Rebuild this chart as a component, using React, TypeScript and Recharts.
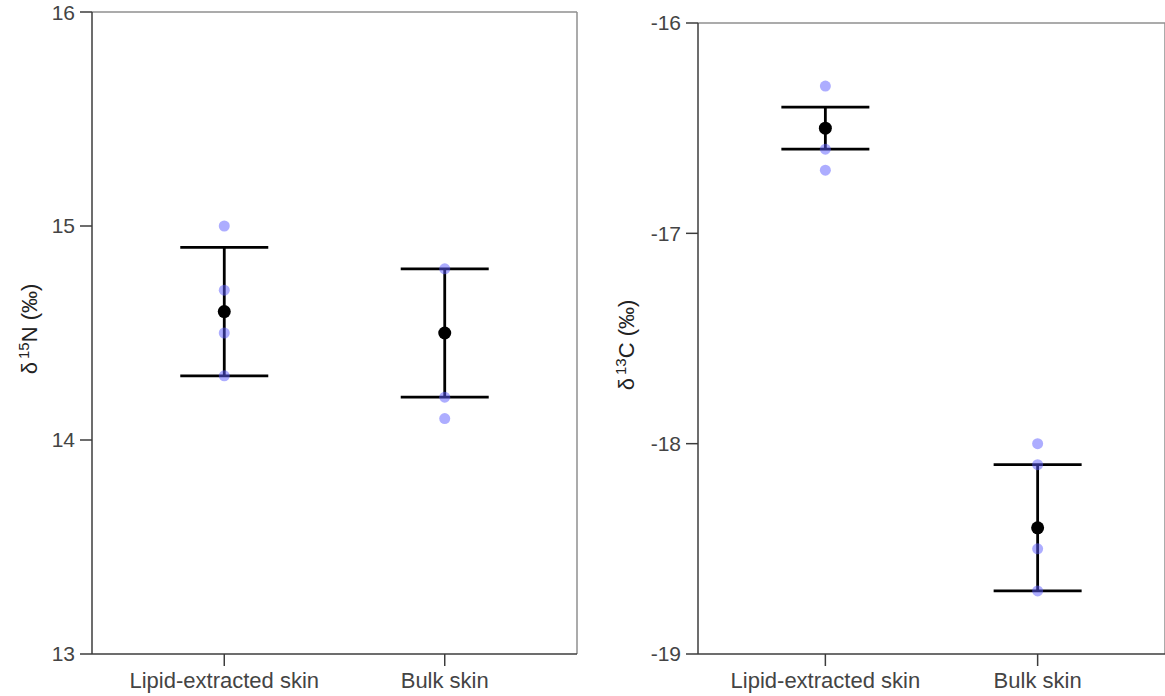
import React from 'react';
import { ComposedChart, Scatter, XAxis, YAxis, ErrorBar, ReferenceLine } from 'recharts';

const categories = ['Lipid-extracted skin', 'Bulk skin'];
const categoryPos = [1, 2];

const n15Mean = [14.6, 14.5];
const n15Err = [0.3, 0.3];
const n15Points = [
  [15.0, 14.7, 14.5, 14.3],
  [14.8, 14.2, 14.1],
];
const n15Ticks = [13, 14, 15, 16];

const c13Mean = [-16.5, -18.4];
const c13Err = [0.1, 0.3];
const c13Points = [
  [-16.3, -16.6, -16.7],
  [-18.0, -18.1, -18.5, -18.7],
];
const c13Ticks = [-19, -18, -17, -16];

const FONT = '"Liberation Sans", Arial, Helvetica, sans-serif';
const AXIS = '#3c3c3c';
const FRAME = '#8f8f8f';
const TEXT = '#444444';

const meanData = (m: number[], e: number[]) =>
  m.map((v, i) => ({ x: categoryPos[i], y: v, err: e[i] }));
const pointData = (pts: number[][]) =>
  pts.flatMap((arr, i) => arr.map((v) => ({ x: categoryPos[i], y: v })));

const MeanDot = (p: any) => <circle cx={p.cx} cy={p.cy} r={6.5} fill="#000" />;
const PtDot = (p: any) => (
  <circle cx={p.cx} cy={p.cy} r={5.5} fill="#5c5cff" fillOpacity={0.5} />
);

function AxisTitle({ sup, el, x, y }: { sup: string; el: string; x: number; y: number }) {
  return (
    <svg
      width={60}
      height={696}
      style={{ position: 'absolute', left: x - 30, top: 0, overflow: 'visible', pointerEvents: 'none' }}
    >
      <text
        transform={`translate(37,${y}) rotate(-90)`}
        textAnchor="middle"
        fontFamily={FONT}
        fontSize={22}
        fill="#222"
      >
        δ
        <tspan dx={3} dy={-8} fontSize={15}>{sup}</tspan>
        <tspan dy={8}>{el} (‰)</tspan>
      </text>
    </svg>
  );
}

interface PanelProps {
  means: number[];
  errs: number[];
  pts: number[][];
  ticks: number[];
  top: number;
  right: number;
  yWidth: number;
  width: number;
}

function Panel(p: PanelProps) {
  const lo = p.ticks[0];
  const hi = p.ticks[p.ticks.length - 1];
  return (
    <ComposedChart
      width={p.width}
      height={696}
      margin={{ top: p.top, right: p.right, bottom: 0, left: 0 }}
    >
      <XAxis
        type="number"
        dataKey="x"
        domain={[0.4, 2.6]}
        ticks={categoryPos}
        tickFormatter={(v: number) => categories[v - 1]}
        allowDataOverflow
        stroke={AXIS}
        strokeWidth={1.5}
        tickSize={12}
        tickMargin={6}
        tick={{ fill: TEXT, fontSize: 22, fontFamily: FONT }}
        height={42}
      />
      <YAxis
        type="number"
        dataKey="y"
        domain={[lo, hi]}
        ticks={p.ticks}
        allowDataOverflow
        width={p.yWidth}
        stroke={AXIS}
        strokeWidth={1.5}
        tickSize={12}
        tickMargin={5}
        tick={{ fill: TEXT, fontSize: 21, fontFamily: FONT }}
      />
      <ReferenceLine y={hi} stroke={FRAME} strokeWidth={1.5} />
      <ReferenceLine x={2.6} stroke={FRAME} strokeWidth={1.5} />
      <Scatter
        data={meanData(p.means, p.errs)}
        shape={MeanDot}
        isAnimationActive={false}
      >
        <ErrorBar
          dataKey="err"
          direction="y"
          width={44}
          stroke="#000"
          strokeWidth={2.8}
          isAnimationActive={false}
        />
      </Scatter>
      <Scatter data={pointData(p.pts)} shape={PtDot} isAnimationActive={false} />
    </ComposedChart>
  );
}

export default function App() {
  return (
    <div
      style={{
        position: 'fixed',
        left: 0,
        top: 0,
        width: 1165,
        height: 696,
        background: '#fff',
        overflow: 'hidden',
      }}
    >
      <div style={{ position: 'absolute', left: 0, top: 0 }}>
        <Panel
          means={n15Mean}
          errs={n15Err}
          pts={n15Points}
          ticks={n15Ticks}
          top={12}
          right={23}
          yWidth={92}
          width={600}
        />
      </div>
      <div style={{ position: 'absolute', left: 600, top: 0 }}>
        <Panel
          means={c13Mean}
          errs={c13Err}
          pts={c13Points}
          ticks={c13Ticks}
          top={23}
          right={0}
          yWidth={98}
          width={565}
        />
      </div>
      <AxisTitle sup="15" el="N" x={30} y={329} />
      <AxisTitle sup="13" el="C" x={627} y={345} />
    </div>
  );
}
